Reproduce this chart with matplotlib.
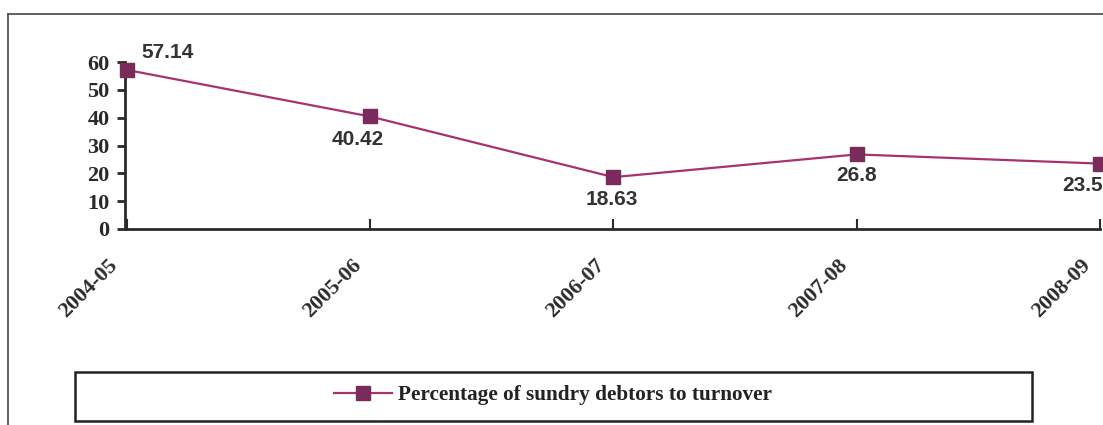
import matplotlib
matplotlib.use("Agg")
import matplotlib.pyplot as plt
from matplotlib.patches import Rectangle
from matplotlib.lines import Line2D
from matplotlib.transforms import ScaledTranslation

years = ["2004-05", "2005-06", "2006-07", "2007-08", "2008-09"]
values = [57.14, 40.42, 18.63, 26.8, 23.5]
series_name = "Percentage of sundry debtors to turnover"
yticks = [0, 10, 20, 30, 40, 50, 60]

W, H = 1103, 425
fig = plt.figure(figsize=(W / 100, H / 100), dpi=100)
fig.patch.set_facecolor("white")

ax = fig.add_axes([125 / W, (H - 229) / H, (1100 - 125) / W, 167 / H])
x = list(range(len(years)))
line_color = "#A8326F"
marker_color = "#7B2A5C"
axis_color = "#2a2a2a"

ax.plot(x, values, color=line_color, lw=1.6, marker="s", markersize=9.5,
        markerfacecolor=marker_color, markeredgecolor=marker_color,
        clip_on=False, zorder=3)

ax.set_xlim(-0.008, 4)
ax.set_ylim(0, 60)
ax.set_yticks(yticks)
ax.set_xticks(x)
ax.set_xticklabels(years, rotation=45, ha="right", va="center",
                   rotation_mode="anchor")
for s in ["top", "right"]:
    ax.spines[s].set_visible(False)
for s in ["left", "bottom"]:
    ax.spines[s].set_color(axis_color)
    ax.spines[s].set_linewidth(2)
ax.tick_params(axis="y", direction="out", length=6, width=2, color=axis_color,
               pad=5, labelsize=16, labelcolor=axis_color)
ax.tick_params(axis="x", direction="in", length=7, width=1.5, color=axis_color,
               pad=24, labelsize=15.8, labelcolor=axis_color)
shift = ScaledTranslation(-12 / 100, 0, fig.dpi_scale_trans)
for lab in ax.get_xticklabels():
    lab.set_transform(lab.get_transform() + shift)
for lab in ax.get_yticklabels() + ax.get_xticklabels():
    lab.set_fontfamily("Liberation Serif")
    lab.set_fontweight("bold")

# data labels (offsets in points)
offsets = [(29, 6, "center", "bottom"),
           (-9, -10, "center", "top"),
           (-1, -9, "center", "top"),
           (0, -8, "center", "top"),
           (-27, -9, "left", "top")]
for xi, v, (dx, dy, ha, va) in zip(x, values, offsets):
    ax.annotate(f"{v:g}", (xi, v), xytext=(dx, dy), textcoords="offset points",
                ha=ha, va=va, fontsize=15, fontweight="bold",
                family="Liberation Sans", color="#333333", annotation_clip=False)

# outer frame (top and left visible, rest cut by image)
fig.add_artist(Line2D([8 / W, 1.0], [1 - 14 / H, 1 - 14 / H], transform=fig.transFigure,
                      color="#555555", lw=1.3))
fig.add_artist(Line2D([8 / W, 8 / W], [1 - 14 / H, 0], transform=fig.transFigure,
                      color="#555555", lw=1.3))

# legend box
fig.add_artist(Rectangle((75 / W, (H - 421) / H), (1032 - 75) / W, 49 / H,
                         transform=fig.transFigure, fill=False,
                         edgecolor="#222222", lw=1.8))
handle = Line2D([], [], color=line_color, lw=1.6, marker="s", markersize=9.5,
                markerfacecolor=marker_color, markeredgecolor=marker_color)
leg = fig.legend([handle], [series_name], loc="center",
                 bbox_to_anchor=(553 / W, (H - 395) / H), frameon=False,
                 handlelength=2.7, handletextpad=0.3,
                 prop={"family": "Liberation Serif", "weight": "bold", "size": 15.3})
for t in leg.get_texts():
    t.set_color("#222222")

fig.savefig("out.png", dpi=100, facecolor="white")
